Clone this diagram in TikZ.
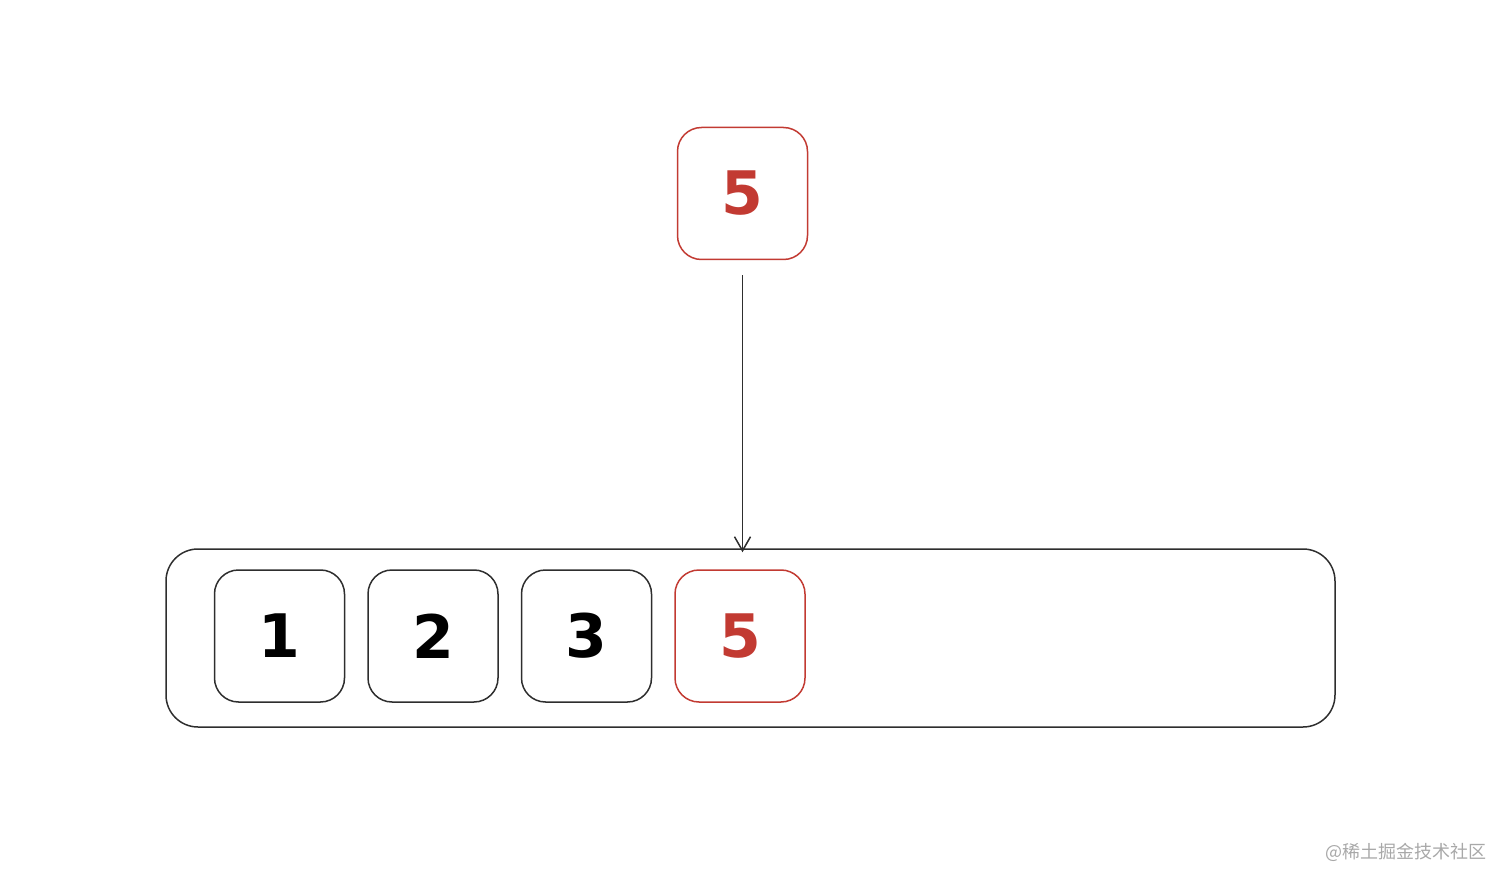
\documentclass[tikz,border=0pt]{standalone}
\usepackage{fontspec}
\usepackage{tikz}
\usetikzlibrary{arrows.meta, positioning}
\newfontfamily\numfont{DejaVu Sans}
\newfontfamily\cjkfont{Noto Sans CJK SC}
\definecolor{cellred}{HTML}{C23A32}
\definecolor{linegray}{HTML}{2E2E2E}
\definecolor{markgray}{HTML}{A8A8A8}

\begin{document}
\begin{tikzpicture}[x=0.5pt, y=-0.5pt,
          node distance = 11pt,
          cell/.style = {draw=linegray, line width=0.75pt, rounded corners=12pt,
                         minimum width=65pt, minimum height=66pt,
                         font={\numfont\bfseries\fontsize{30}{30}\selectfont}},
          hot/.style = {cell, draw=cellred, text=cellred},
          >={Straight Barb[length=7pt, width=8pt]}]
        \useasboundingbox (0,0) rectangle (1512,888);
        \node[draw=linegray, line width=0.75pt, rounded corners=16pt,
              minimum width=584.5pt, minimum height=89pt] (bar) at (750.5,638) {};
        \node[cell] (one) at (279.5,636) {1};
        \node[cell, right=of one]   (two)   {2};
        \node[cell, right=of two]   (three) {3};
        \node[hot,  right=of three] (five)  {5};
        \node[hot] (new) at (742.5,193.5) {5};
        \draw[->, linegray, line width=0.75pt, shorten <=7.5pt, shorten >=-2pt] (new.south) -- (new.south |- bar.north);
        % watermark
        \node[font={\cjkfont\fontsize{9}{9}\selectfont}, text=markgray, anchor=east, inner sep=0pt] (mark) at (1487,852) {@稀土掘金技术社区};
      \end{tikzpicture}
\end{document}
